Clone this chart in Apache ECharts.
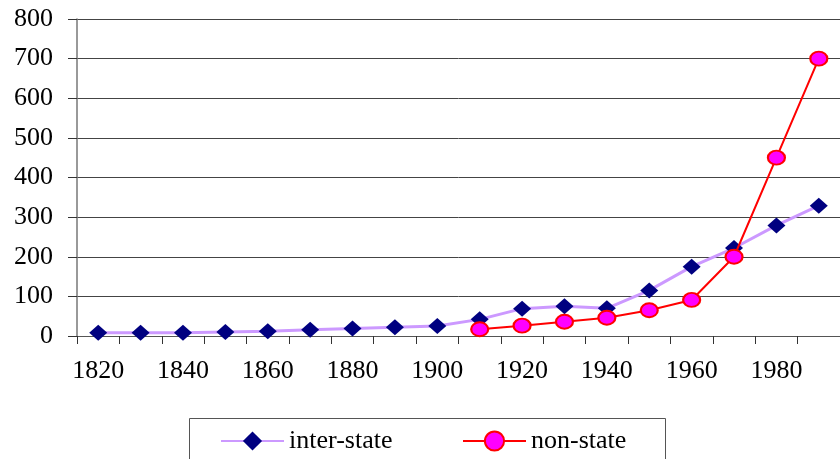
<!DOCTYPE html>
<html>
<head>
<meta charset="utf-8">
<style>
  html, body { margin: 0; padding: 0; background: #fff; }
  #chart { width: 840px; height: 459px; }
</style>
<script src="https://cdn.jsdelivr.net/npm/echarts@6/dist/echarts.min.js"></script>
</head>
<body>
<div id="chart"></div>
<script>
// Decades on the category axis
const years = ['1820', '1830', '1840', '1850', '1860', '1870', '1880', '1890', '1900',
               '1910', '1920', '1930', '1940', '1950', '1960', '1970', '1980', '1990'];
// Wars between states
const interState = [8, 8, 8, 10, 12, 16, 19, 22, 25, 42, 69, 75, 70, 115, 175, 222, 279, 329];
// Wars not between states (series starts in 1910)
const nonState = [null, null, null, null, null, null, null, null, null,
                  17, 26, 36, 46, 65, 91, 200, 450, 700];
const yTicks = { min: 0, max: 800, interval: 100 };

const serif = 'Liberation Serif';
const ellipse = 'path://M0 7a8.5 7 0 1 0 17 0a8.5 7 0 1 0 -17 0z';
const labelText = { color: '#000', fontFamily: serif, fontSize: 26 };

const chart = echarts.init(document.getElementById('chart'), null, { renderer: 'canvas' });

chart.setOption({
  animation: false,
  backgroundColor: '#ffffff',
  textStyle: { fontFamily: serif, fontSize: 26 },
  grid: { left: 77, right: -3, top: 19, bottom: 123, containLabel: false },
  xAxis: {
    type: 'category',
    data: years,
    boundaryGap: true,
    axisLine: { show: true, lineStyle: { color: '#555', width: 1 } },
    axisTick: { show: true, interval: 0, length: 8, lineStyle: { color: '#333' } },
    axisLabel: Object.assign({ interval: 1, margin: 22 }, labelText),
    splitLine: { show: false }
  },
  yAxis: {
    type: 'value',
    min: yTicks.min, max: yTicks.max, interval: yTicks.interval,
    axisLine: { show: true, lineStyle: { color: '#777', width: 1.5 } },
    axisTick: { show: true, length: 9, lineStyle: { color: '#333' } },
    axisLabel: Object.assign({ margin: 24 }, labelText),
    splitLine: { show: true, lineStyle: { color: '#444', width: 1 } }
  },
  legend: [
    {
      data: ['inter-state'], left: 220, top: 428,
      itemWidth: 63, itemHeight: 24, padding: 0,
      textStyle: labelText
    },
    {
      data: ['non-state'], left: 462, top: 428,
      itemWidth: 63, itemHeight: 24, padding: 0,
      textStyle: labelText
    }
  ],
  graphic: [{
    type: 'rect', left: 187, top: 416, z: 0,
    shape: { width: 476, height: 60 },
    style: { fill: 'none', stroke: '#555', lineWidth: 1 }
  }],
  series: [
    {
      name: 'inter-state', type: 'line', data: interState,
      symbol: 'diamond', symbolSize: [18, 16], showAllSymbol: true,
      lineStyle: { color: '#cc99ff', width: 3 },
      itemStyle: { color: '#000080', borderWidth: 0 },
      z: 2
    },
    {
      name: 'non-state', type: 'line', data: nonState,
      symbol: ellipse, symbolSize: [17, 14], showAllSymbol: true,
      lineStyle: { color: '#ff0000', width: 2 },
      itemStyle: { color: '#ff00ff', borderColor: '#ff0000', borderWidth: 2 },
      z: 3
    }
  ]
});
</script>
</body>
</html>
